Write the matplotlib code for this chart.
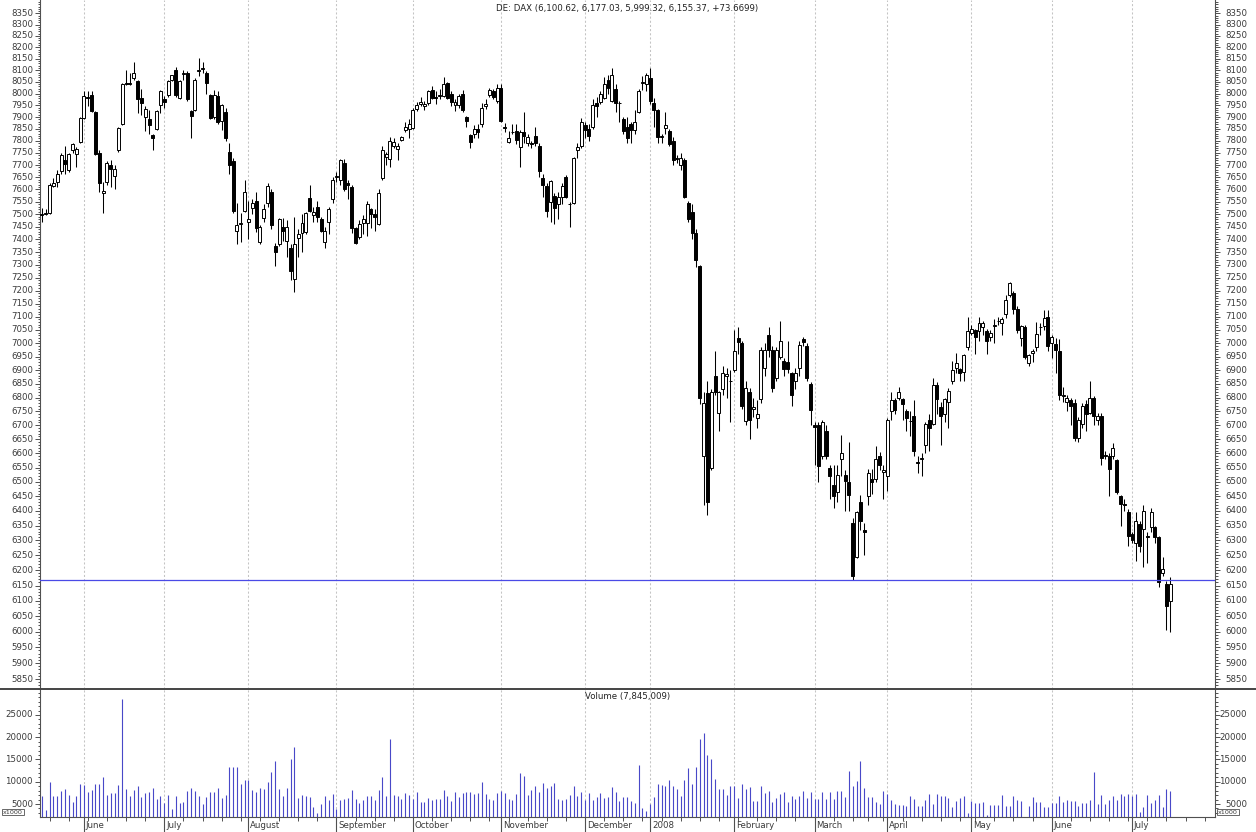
# -*- coding: utf-8 -*-
import numpy as np
import pandas as pd
import matplotlib
matplotlib.use("agg")
import matplotlib.pyplot as plt
from matplotlib.ticker import FixedLocator, NullFormatter
from matplotlib.transforms import blended_transform_factory
from matplotlib.lines import Line2D

# =========================
# Datos
# =========================

start_date = "2007-05-17"
holidays = ["2007-12-24", "2007-12-25", "2007-12-26", "2007-12-31",
            "2008-01-01", "2008-03-21", "2008-03-24", "2008-05-01"]

opens = [
    7495, 7500, 7505, 7615, 7630, 7675, 7720, 7680, 7760, 7745,
    7795, 7895, 7985, 7995, 7920, 7750, 7585, 7630, 7700, 7655,
    7760, 7870, 8045, 8040, 8065, 8055, 7980, 7900, 7890, 7825,
    7850, 7950, 7975, 7993, 8060, 8100, 7980, 8085, 8090, 7925,
    7930, 8095, 8105, 8090, 7995, 7900, 7990, 7885, 7920, 7755,
    7715, 7435, 7460, 7515, 7470, 7525, 7555, 7390, 7485, 7545,
    7590, 7375, 7380, 7450, 7395, 7365, 7245, 7405, 7425, 7430,
    7565, 7495, 7530, 7480, 7390, 7470, 7560, 7650, 7640, 7710,
    7625, 7610, 7445, 7410, 7465, 7465, 7520, 7500, 7460, 7645,
    7735, 7725, 7780, 7765, 7805, 7845, 7850, 7855, 7935, 7955,
    7945, 7960, 8015, 7985, 7990, 7990, 8045, 8000, 7950, 7950,
    8000, 7900, 7825, 7830, 7850, 7870, 7945, 7995, 8010, 7970,
    8025, 7860, 7797, 7835, 7842, 7775, 7835, 7790, 7790, 7820,
    7780, 7645, 7615, 7550, 7575, 7540, 7570, 7650, 7540, 7545,
    7760, 7780, 7865, 7848, 7860, 7960, 7965, 7980, 8060, 7970,
    8020, 7960, 7890, 7860, 7870, 7845, 7920, 8045, 8040, 8065,
    7960, 7930, 7815, 7855, 7840, 7800, 7725, 7700, 7720, 7545,
    7510, 7425, 7295, 6590, 6815, 6550, 6880, 6745, 6830, 6880,
    6860, 6900, 7020, 7000, 6715, 6820, 6760, 6725, 6795, 6910,
    7030, 6975, 6870, 6950, 6935, 6930, 6890, 6860, 6910, 7015,
    6990, 6850, 6700, 6700, 6590, 6680, 6550, 6490, 6465, 6580,
    6525, 6500, 6360, 6245, 6430, 6335, 6450, 6510, 6510, 6590,
    6535, 6520, 6750, 6790, 6800, 6795, 6750, 6715, 6735, 6570,
    6580, 6630, 6720, 6705, 6845, 6765, 6740, 6785, 6860, 6910,
    6905, 6895, 6985, 7040, 7050, 7045, 7060, 7045, 7025, 7065,
    7085, 7075, 7110, 7185, 7190, 7130, 7020, 7060, 6925, 6965,
    6985, 7060, 7065, 7100, 7000, 6998, 6970, 6805, 6785, 6790,
    6780, 6655, 6705, 6775, 6745, 6800, 6720, 6735, 6595, 6590,
    6590, 6575, 6450, 6425, 6395, 6320, 6290, 6355, 6340, 6315,
    6345, 6345, 6310, 6190, 6155, 6100.62,
]

highs = [
    7525, 7520, 7625, 7645, 7680, 7750, 7780, 7750, 7790, 7775,
    7900, 8010, 8010, 8010, 7925, 7760, 7630, 7715, 7720, 7700,
    7860, 8045, 8100, 8090, 8135, 8060, 8020, 7945, 7930, 7830,
    7930, 8015, 7990, 8060, 8080, 8115, 8060, 8100, 8095, 7930,
    8065, 8155, 8135, 8095, 8000, 8015, 8010, 7955, 7940, 7790,
    7730, 7545, 7505, 7640, 7555, 7560, 7590, 7455, 7540, 7625,
    7600, 7385, 7485, 7485, 7475, 7380, 7490, 7440, 7500, 7510,
    7620, 7530, 7555, 7490, 7450, 7530, 7650, 7670, 7725, 7725,
    7640, 7620, 7450, 7475, 7495, 7555, 7525, 7520, 7600, 7780,
    7755, 7815, 7810, 7790, 7820, 7880, 7890, 7940, 7965, 7985,
    7970, 8015, 8030, 8010, 8020, 8070, 8050, 8010, 7975, 8000,
    8015, 7905, 7830, 7865, 7870, 7960, 7975, 8025, 8020, 8040,
    8040, 7875, 7840, 7870, 7870, 7845, 7920, 7830, 7800, 7860,
    7790, 7665, 7625, 7640, 7585, 7590, 7625, 7660, 7550, 7735,
    7790, 7895, 7880, 7870, 7975, 7985, 8010, 8070, 8080, 8110,
    8040, 7970, 7900, 7900, 7880, 7930, 8020, 8075, 8090, 8110,
    7980, 7935, 7830, 7920, 7850, 7815, 7740, 7750, 7730, 7555,
    7540, 7440, 7300, 6820, 6860, 6830, 6970, 6825, 6915, 6910,
    6900, 7050, 7060, 7010, 6860, 6835, 6800, 6790, 6985, 7000,
    7060, 6990, 6985, 7085, 6945, 7010, 6895, 6910, 7010, 7025,
    7000, 6855, 6710, 6710, 6720, 6700, 6560, 6560, 6560, 6665,
    6540, 6640, 6375, 6400, 6455, 6360, 6545, 6545, 6625, 6605,
    6560, 6725, 6820, 6800, 6840, 6800, 6760, 6750, 6790, 6590,
    6600, 6710, 6740, 6870, 6855, 6785, 6800, 6835, 6935, 6965,
    6910, 6960, 7100, 7070, 7055, 7100, 7085, 7055, 7050, 7090,
    7100, 7100, 7185, 7235, 7200, 7140, 7070, 7070, 6960, 6980,
    7080, 7075, 7125, 7125, 7030, 7020, 7015, 6840, 6810, 6800,
    6795, 6730, 6780, 6790, 6860, 6805, 6745, 6745, 6610, 6600,
    6635, 6580, 6455, 6440, 6405, 6330, 6395, 6365, 6420, 6330,
    6410, 6350, 6315, 6245, 6165, 6177.03,
]

lows = [
    7470, 7495, 7500, 7610, 7610, 7665, 7665, 7670, 7750, 7690,
    7790, 7890, 7945, 7920, 7740, 7590, 7505, 7620, 7610, 7600,
    7755, 7865, 8035, 8035, 8060, 7915, 7910, 7840, 7830, 7760,
    7845, 7915, 7940, 7985, 8055, 7985, 7975, 8060, 7970, 7810,
    7925, 8075, 8090, 8000, 7890, 7890, 7870, 7845, 7800, 7665,
    7505, 7380, 7390, 7510, 7400, 7500, 7430, 7380, 7470, 7530,
    7440, 7295, 7375, 7395, 7330, 7240, 7195, 7330, 7350, 7420,
    7510, 7470, 7470, 7430, 7365, 7420, 7545, 7630, 7620, 7595,
    7560, 7425, 7380, 7400, 7420, 7415, 7445, 7435, 7455, 7640,
    7700, 7690, 7770, 7720, 7800, 7835, 7810, 7850, 7925, 7945,
    7930, 7950, 7975, 7955, 7975, 7985, 7975, 7945, 7925, 7940,
    7920, 7860, 7770, 7810, 7810, 7860, 7935, 7985, 7975, 7960,
    7880, 7835, 7790, 7830, 7785, 7690, 7790, 7780, 7770, 7780,
    7650, 7570, 7490, 7470, 7460, 7480, 7540, 7565, 7450, 7540,
    7730, 7770, 7810, 7800, 7850, 7900, 7955, 7975, 8000, 7965,
    7920, 7880, 7830, 7790, 7790, 7830, 7915, 8015, 8010, 7955,
    7860, 7790, 7790, 7830, 7780, 7700, 7710, 7680, 7565, 7470,
    7400, 7290, 6775, 6420, 6385, 6540, 6810, 6680, 6810, 6800,
    6710, 6895, 6960, 6760, 6700, 6650, 6730, 6690, 6780, 6880,
    6950, 6820, 6860, 6940, 6880, 6890, 6770, 6830, 6880, 6990,
    6860, 6700, 6560, 6500, 6580, 6580, 6440, 6410, 6430, 6520,
    6400, 6400, 6168, 6240, 6335, 6250, 6420, 6460, 6500, 6540,
    6440, 6470, 6720, 6740, 6790, 6720, 6680, 6660, 6590, 6530,
    6520, 6600, 6610, 6700, 6740, 6630, 6710, 6690, 6850, 6890,
    6860, 6860, 6975, 7030, 6960, 7010, 7030, 6960, 7010, 7000,
    7070, 7030, 7095, 7175, 7110, 7040, 6990, 6940, 6915, 6930,
    6970, 7030, 7050, 6970, 6945, 6890, 6790, 6785, 6750, 6700,
    6645, 6640, 6690, 6680, 6740, 6700, 6700, 6560, 6580, 6450,
    6580, 6460, 6350, 6400, 6280, 6290, 6230, 6260, 6210, 6225,
    6330, 6290, 6145, 6180, 6005, 5999.32,
]

closes = [
    7500, 7505, 7620, 7625, 7665, 7740, 7705, 7745, 7785, 7765,
    7895, 7990, 7980, 7925, 7745, 7625, 7595, 7710, 7685, 7685,
    7855, 8040, 8040, 8045, 8090, 7975, 7960, 7935, 7865, 7810,
    7925, 8012, 7965, 8053, 8078, 7995, 8053, 8088, 7975, 7905,
    8060, 8100, 8110, 8045, 7895, 7995, 7880, 7950, 7810, 7700,
    7515, 7455, 7465, 7590, 7480, 7545, 7445, 7450, 7520, 7615,
    7455, 7350, 7480, 7435, 7450, 7275, 7380, 7420, 7465, 7505,
    7515, 7510, 7490, 7435, 7435, 7520, 7640, 7655, 7720, 7600,
    7620, 7445, 7385, 7460, 7480, 7540, 7500, 7490, 7585, 7760,
    7745, 7800, 7795, 7780, 7815, 7860, 7870, 7930, 7950, 7965,
    7955, 8010, 7980, 7980, 7995, 8040, 7980, 7965, 7965, 7990,
    7930, 7885, 7795, 7850, 7835, 7940, 7955, 8015, 7985, 8025,
    7885, 7855, 7812, 7835, 7805, 7835, 7820, 7815, 7787, 7790,
    7675, 7620, 7515, 7635, 7525, 7570, 7615, 7570, 7540, 7730,
    7775, 7880, 7845, 7820, 7950, 7945, 7997, 8040, 8025, 8080,
    7960, 7960, 7840, 7810, 7845, 7880, 8010, 8050, 8080, 7970,
    7930, 7815, 7820, 7865, 7785, 7720, 7728, 7730, 7570, 7480,
    7425, 7320, 6800, 6780, 6430, 6820, 6820, 6820, 6890, 6885,
    6860, 6970, 7005, 6770, 6835, 6720, 6765, 6740, 6975, 6975,
    6975, 6835, 6975, 7010, 6905, 6905, 6810, 6890, 6995, 7005,
    6870, 6755, 6695, 6555, 6710, 6590, 6520, 6450, 6525, 6600,
    6505, 6455, 6180, 6395, 6365, 6330, 6530, 6500, 6580, 6560,
    6540, 6720, 6790, 6755, 6820, 6775, 6725, 6715, 6610, 6565,
    6585, 6705, 6690, 6845, 6795, 6735, 6795, 6825, 6900, 6925,
    6890, 6955, 7045, 7055, 7025, 7075, 7075, 7010, 7040, 7070,
    7085, 7090, 7165, 7230, 7130, 7050, 7065, 6950, 6955, 6970,
    7035, 7060, 7095, 6990, 7025, 6975, 6810, 6810, 6800, 6770,
    6655, 6720, 6770, 6740, 6800, 6735, 6735, 6585, 6590, 6545,
    6620, 6465, 6425, 6420, 6315, 6300, 6365, 6280, 6400, 6310,
    6395, 6310, 6160, 6205, 6082, 6155.37,
]

# volumen en miles
volumes = [
    6900, 3600, 10000, 6900, 6700, 7900, 8400, 7100, 5500, 6700,
    9400, 9200, 7600, 8200, 9600, 9400, 11100, 7100, 7500, 7500,
    9200, 28700, 8300, 6900, 8100, 9100, 6500, 7500, 7600, 8700,
    6200, 6700, 5200, 7100, 3900, 6700, 5200, 5500, 8000, 8500,
    7900, 6800, 5000, 6500, 7800, 7600, 8500, 6400, 7100, 13300,
    13300, 13300, 9400, 10400, 10400, 8200, 7800, 8500, 8400, 10000,
    12200, 14700, 8400, 6900, 8700, 15200, 17700, 6400, 7100, 6800,
    6500, 4300, 2900, 5000, 6800, 6000, 7300, 3900, 6000, 6200,
    6300, 8100, 6200, 5200, 5800, 6800, 6800, 6000, 8200, 11000,
    6700, 19500, 7100, 6800, 6200, 7500, 7000, 6200, 7600, 5500,
    5500, 6400, 5800, 6100, 6200, 8100, 6700, 5600, 7600, 6500,
    7500, 7600, 7600, 7300, 7500, 10000, 7300, 6100, 6000, 7500,
    7900, 7400, 6100, 6000, 7300, 12000, 11300, 7100, 8100, 9000,
    7800, 9700, 8500, 9000, 9700, 6100, 5900, 6100, 7100, 9000,
    6800, 7600, 5800, 7500, 5800, 6500, 7500, 6400, 6500, 8800,
    7600, 5600, 6500, 6500, 5600, 5300, 13800, 4000, 3500, 5000,
    6600, 9400, 9300, 9000, 10400, 9100, 8300, 6700, 10400, 13100,
    9400, 13300, 19500, 21000, 16000, 15200, 10700, 8300, 8400, 7100,
    9100, 9000, 6300, 9400, 8400, 8800, 5600, 5600, 9100, 7500,
    8000, 5500, 6400, 7200, 7700, 5500, 6800, 6200, 6900, 8000,
    6300, 7600, 6200, 6200, 7600, 6200, 7600, 6200, 8000, 8000,
    6500, 12500, 9100, 10100, 14700, 8600, 6500, 6500, 5500, 5000,
    7900, 7300, 5800, 4900, 4700, 4700, 4500, 6800, 6100, 4500,
    4500, 5800, 7200, 4900, 7200, 6700, 6700, 6300, 4300, 5700,
    6300, 6800, 2900, 5700, 5200, 5200, 5400, 2600, 4800, 4800,
    4800, 7000, 4600, 4600, 6800, 5800, 5700, 2100, 4600, 6500,
    5500, 5500, 4300, 4400, 5200, 5300, 6900, 5500, 5900, 5600,
    5600, 4500, 5300, 5300, 5800, 12300, 5100, 7000, 5100, 5900,
    6700, 5800, 7200, 6800, 7200, 6800, 7200, 3100, 4400, 7000,
    5200, 5900, 7000, 4400, 8400, 7845,
]

month_labels = ["June", "July", "August", "September", "October", "November",
                "December", "2008", "February", "March", "April", "May",
                "June", "July"]
price_ticks = list(range(5850, 8351, 50))
volume_ticks = [5000, 10000, 15000, 20000, 25000]
support_level = 6168
header = "DE: DAX (6,100.62, 6,177.03, 5,999.32, 6,155.37, +73.6699)"
volume_title = "Volume (7,845,009)"

# =========================
# Calendario de sesiones
# =========================

cal = pd.bdate_range(start_date, "2008-08-29")
cal = cal[~cal.isin(pd.to_datetime(holidays))]
n = len(closes)
x = np.arange(n)
x_max = 306.7

month_idx = [i for i in range(1, len(cal)) if cal[i].month != cal[i - 1].month]
month_idx = [i for i in month_idx if i < x_max][:len(month_labels)]
week_idx = [i for i in range(1, len(cal))
            if cal[i].weekday() < cal[i - 1].weekday() and i < x_max and i not in month_idx]

# =========================
# Figura
# =========================

W, H = 1256, 832
fig = plt.figure(figsize=(W / 100, H / 100), dpi=100)
fig.patch.set_facecolor("white")
ax_p = fig.add_axes([40 / W, (H - 689) / H, 1175 / W, 689 / H])
ax_v = fig.add_axes([40 / W, (H - 817) / H, 1175 / W, 128 / H])

txt_color = "#3a3a3a"
axis_color = "#505050"
fs = 6.2

# ---- precios (velas)
o = np.array(opens); h = np.array(highs); l = np.array(lows); c = np.array(closes)
ax_p.vlines(x, l, h, color="black", lw=0.75, zorder=2)
bottoms = np.minimum(o, c)
heights = np.maximum(np.abs(c - o), 0.5)
faces = ["white" if cc >= oo else "black" for oo, cc in zip(o, c)]
ax_p.bar(x, heights, bottom=bottoms, width=0.78, color=faces,
         edgecolor="black", linewidth=0.7, zorder=3)
ax_p.axhline(support_level, color="#4a4ae6", lw=0.9, zorder=4)

ax_p.set_yscale("log")
ax_p.set_ylim(5819, 8410)
ax_p.set_xlim(-0.5, x_max)

# ---- volumen
v_bottom = 2080
ax_v.vlines(x, v_bottom, volumes, color="#4848c8", lw=0.8, zorder=2)
ax_v.set_ylim(v_bottom, 30840)
ax_v.set_xlim(-0.5, x_max)

# ---- rejilla vertical en inicios de mes
for ax in (ax_p, ax_v):
    for m in month_idx:
        ax.axvline(m, color="#c4c4c4", lw=0.75, ls=(0, (2, 2)), zorder=1)
    for side in ("top", "bottom"):
        ax.spines[side].set_visible(False)
    for side in ("left", "right"):
        ax.spines[side].set_color(axis_color)
        ax.spines[side].set_linewidth(0.8)
ax_v.spines["bottom"].set_visible(True)
ax_v.spines["bottom"].set_color(axis_color)
ax_v.spines["bottom"].set_linewidth(0.8)

# ---- ticks eje Y (precio)
ax_p.yaxis.set_major_locator(FixedLocator(price_ticks))
ax_p.yaxis.set_minor_locator(FixedLocator(list(range(5820, 8410, 10))))
ax_p.yaxis.set_major_formatter(NullFormatter())
ax_p.yaxis.set_minor_formatter(NullFormatter())
ax_p.tick_params(axis="x", which="both", bottom=False, labelbottom=False)

ax_v.yaxis.set_major_locator(FixedLocator(volume_ticks))
ax_v.yaxis.set_minor_locator(FixedLocator(list(range(3000, 30001, 1000))))
ax_v.yaxis.set_major_formatter(NullFormatter())
ax_v.yaxis.set_minor_formatter(NullFormatter())

for ax in (ax_p, ax_v):
    ax.tick_params(axis="y", which="both", left=True, right=True,
                   labelleft=False, labelright=False, direction="out",
                   color=axis_color, width=0.7)
    ax.tick_params(axis="y", which="major", length=3.6)
    ax.tick_params(axis="y", which="minor", length=1.8)

# ---- ticks eje X (meses y semanas)
ax_v.xaxis.set_major_locator(FixedLocator(month_idx))
ax_v.xaxis.set_minor_locator(FixedLocator(week_idx))
ax_v.xaxis.set_major_formatter(NullFormatter())
ax_v.tick_params(axis="x", which="major", length=11, width=0.8,
                 color=axis_color, direction="out")
ax_v.tick_params(axis="x", which="minor", length=3, width=0.7,
                 color=axis_color, direction="out")

# ---- etiquetas manuales
tr_pl = blended_transform_factory(fig.transFigure, ax_p.transData)
tr_vl = blended_transform_factory(fig.transFigure, ax_v.transData)
for v in price_ticks:
    ax_p.text(33 / W, v, str(v), transform=tr_pl, ha="right", va="center",
              fontsize=fs, color=txt_color, clip_on=False)
    ax_p.text(1247 / W, v, str(v), transform=tr_pl, ha="right", va="center",
              fontsize=fs, color=txt_color, clip_on=False)
for v in volume_ticks:
    ax_v.text(33 / W, v, str(v), transform=tr_vl, ha="right", va="center",
              fontsize=fs, color=txt_color, clip_on=False)
    ax_v.text(1247 / W, v, str(v), transform=tr_vl, ha="right", va="center",
              fontsize=fs, color=txt_color, clip_on=False)

tr_month = blended_transform_factory(ax_v.transData, fig.transFigure)
for m, lab in zip(month_idx, month_labels):
    ax_v.text(m + 0.5, (H - 826) / H, lab, transform=tr_month, ha="left",
              va="center", fontsize=fs, color=txt_color, clip_on=False)

box = dict(boxstyle="square,pad=0.12", fc="white", ec=axis_color, lw=0.6)
fig.text(1218 / W, (H - 812) / H, "x1000", ha="left", va="center",
         fontsize=4.6, color=txt_color, bbox=box)
fig.text(3 / W, (H - 812) / H, "x1000", ha="left", va="center",
         fontsize=4.6, color=txt_color, bbox=box)

fig.text(627.5 / W, (H - 8) / H, header, ha="center", va="center",
         fontsize=fs, color="#222222")
fig.text(627.5 / W, (H - 697) / H, volume_title, ha="center", va="center",
         fontsize=fs, color="#222222")

# separador entre paneles
fig.add_artist(Line2D([0, 1], [(H - 689) / H] * 2, transform=fig.transFigure,
                      color="#444444", lw=1.4))

fig.savefig("out.png", dpi=100)
print("guardado out.png")
